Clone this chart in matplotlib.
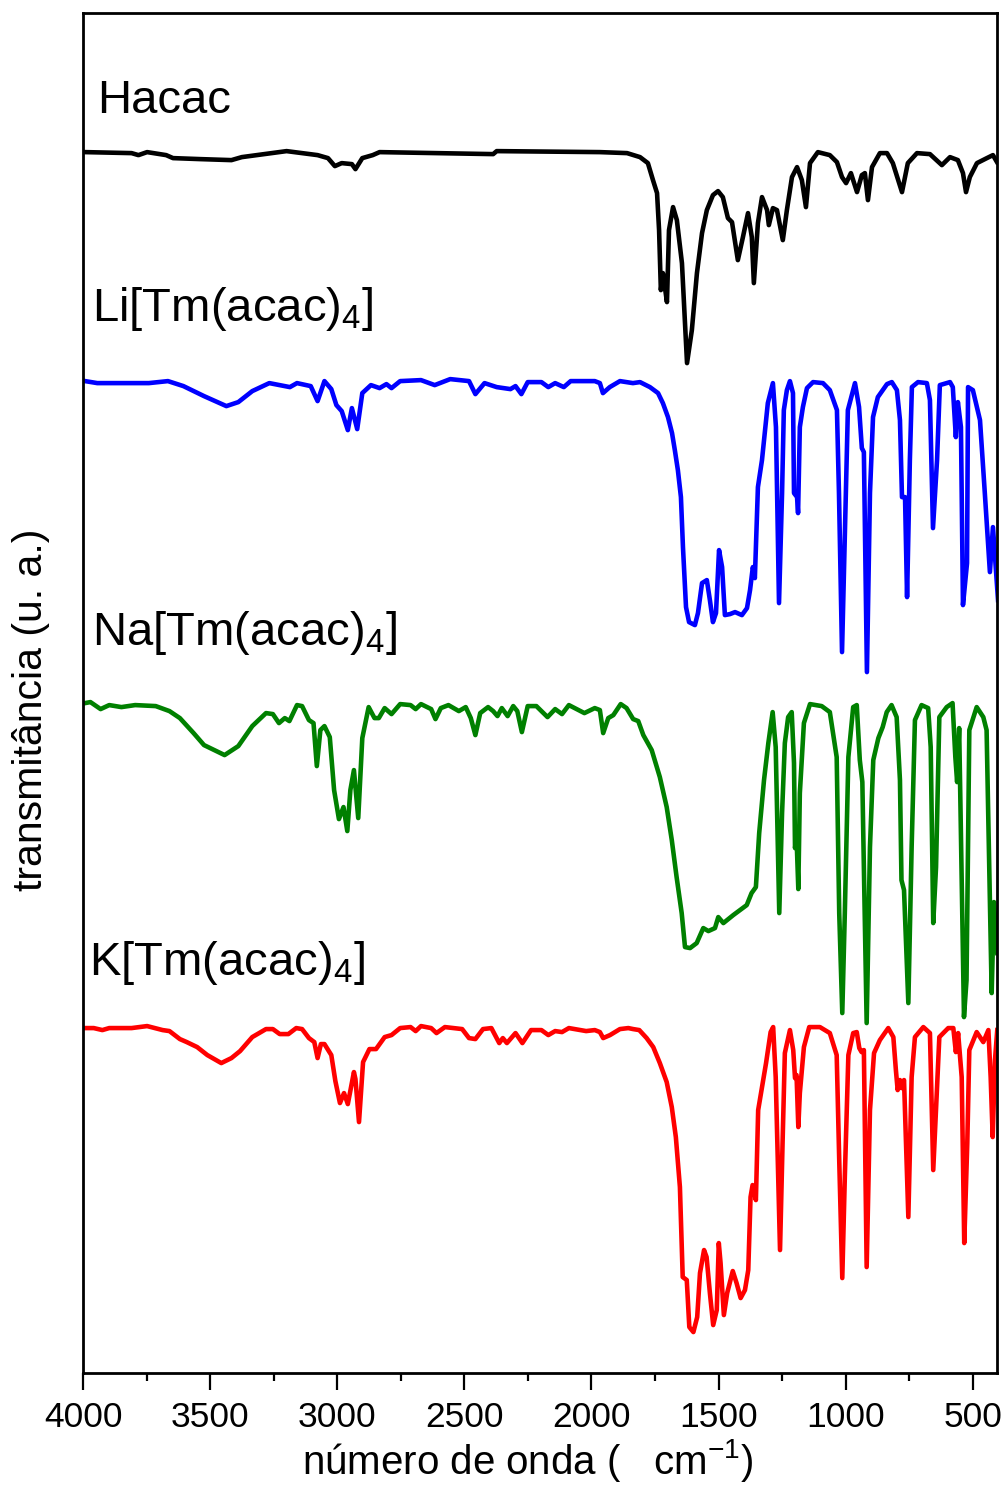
import numpy as np
import matplotlib
matplotlib.use("Agg")
import matplotlib.pyplot as plt
from matplotlib import font_manager
from matplotlib.ticker import MultipleLocator

# IR spectra, wavenumber (cm-1) vs transmittance (arbitrary units, stacked)
wn_hacac = [3993, 3810, 3783, 3749, 3674, 3647, 3539, 3417, 3376, 3200,
            3078, 3037, 3010, 2983, 2943, 2929, 2902, 2861, 2834, 2387,
            2373, 1967, 1860, 1809, 1778, 1758, 1742, 1734, 1727, 1719,
            1715, 1703, 1695, 1679, 1664, 1644, 1624, 1605, 1585, 1565,
            1546, 1522, 1502, 1483, 1463, 1447, 1424, 1404, 1384, 1369,
            1361, 1345, 1329, 1309, 1302, 1286, 1270, 1247, 1231, 1211,
            1191, 1172, 1156, 1140, 1109, 1062, 1034, 1014, 998, 979,
            955, 936, 924, 912, 896, 865, 837, 814, 778, 755,
            719, 668, 621, 589, 558, 538, 526, 511, 483, 444,
            420, 404]
t_hacac = [1221, 1220, 1218, 1221, 1218, 1215, 1214, 1213, 1216, 1222,
           1218, 1215, 1207, 1210, 1209, 1204, 1215, 1218, 1221, 1219,
           1222, 1221, 1220, 1216, 1210, 1193, 1180, 1143, 1083, 1100,
           1093, 1071, 1143, 1166, 1153, 1110, 1010, 1043, 1100, 1140,
           1163, 1178, 1182, 1176, 1155, 1151, 1113, 1136, 1160, 1136,
           1090, 1150, 1176, 1163, 1148, 1165, 1163, 1133, 1163, 1196,
           1206, 1193, 1166, 1210, 1221, 1218, 1211, 1196, 1190, 1200,
           1181, 1198, 1200, 1173, 1206, 1220, 1220, 1210, 1181, 1210,
           1220, 1219, 1208, 1216, 1213, 1200, 1181, 1196, 1210, 1215,
           1218, 1211]

wn_li = [3993, 3945, 3850, 3742, 3667, 3606, 3525, 3437, 3390, 3335,
         3268, 3227, 3187, 3159, 3105, 3078, 3051, 3024, 3004, 2983,
         2959, 2943, 2922, 2902, 2868, 2834, 2807, 2787, 2753, 2671,
         2617, 2556, 2482, 2457, 2421, 2373, 2319, 2299, 2276, 2251,
         2197, 2170, 2143, 2109, 2082, 1987,
         1967, 1955, 1928, 1888, 1837, 1809, 1770, 1738, 1719, 1699,
         1683, 1672, 1660, 1648, 1640, 1628, 1616, 1593, 1581, 1565,
         1546, 1534, 1522, 1510, 1498, 1486, 1475, 1455, 1435, 1408,
         1388, 1376, 1365, 1357, 1345, 1329, 1317, 1306, 1286, 1274,
         1262, 1250, 1243, 1231, 1219, 1207, 1203, 1191, 1187, 1180,
         1168, 1152, 1128, 1089, 1062, 1034, 1026, 1014, 1002, 991,
         963, 947, 936, 928, 916, 904, 892, 873, 837, 818,
         798, 786, 778, 766, 758, 747, 739, 715, 680, 668,
         656, 640, 629, 589, 578, 566, 558, 546, 538, 522,
         518, 499, 471, 452, 432, 420, 400]
t_li = [992, 990, 990, 990, 992, 987, 977, 967, 971, 982,
        990, 988, 986, 990, 987, 972, 992, 984, 968, 962,
        943, 965, 944, 980, 988, 985, 989, 985, 992, 993,
        988, 994, 992, 979, 990, 986, 984, 987, 979, 991,
        991, 986, 990, 986, 992, 992,
        990, 980, 986, 992, 990, 991, 986, 980, 970, 956,
        940, 923, 903, 876, 826, 766, 751, 748, 760, 790,
        793, 773, 751, 760, 823, 806, 758, 759, 761, 758,
        765, 783, 806, 795, 886, 913, 943, 970, 990, 946,
        770, 880, 963, 983, 992, 980, 880, 876, 860, 946,
        966, 985, 991, 990, 983, 963, 880, 721, 846, 963,
        990, 966, 925, 921, 701, 880, 956, 976, 989, 991,
        983, 953, 876, 876, 776, 913, 986, 991, 990, 973,
        845, 913, 988, 991, 986, 936, 971, 946, 768, 810,
        986, 983, 953, 880, 801, 846, 773]

wn_na = [3993, 3972, 3932, 3898, 3850, 3796, 3715, 3661, 3620, 3566,
         3525, 3444, 3390, 3335, 3281, 3254, 3230, 3207, 3189, 3159,
         3139, 3112, 3094, 3081, 3067, 3051, 3030, 3013, 2994, 2976,
         2961, 2949, 2935, 2918, 2902, 2877, 2854, 2837, 2814, 2787,
         2753, 2712, 2692, 2671, 2631, 2614, 2593, 2563, 2522, 2495,
         2475, 2457, 2438, 2407, 2387, 2370, 2353, 2330, 2308, 2292,
         2274, 2251, 2217, 2173, 2143, 2116, 2089, 2028, 1987,
         1967, 1954, 1934, 1914, 1885, 1862, 1836, 1816, 1796, 1763,
         1731, 1704, 1684, 1665, 1645, 1632, 1612, 1586, 1560, 1540,
         1514, 1501, 1481, 1442, 1389, 1370, 1353, 1340, 1321, 1304,
         1287, 1275, 1261, 1250, 1239, 1226, 1212, 1203, 1199, 1193,
         1186, 1180, 1164, 1140, 1094, 1062, 1035, 1025, 1013, 1003,
         989, 970, 956, 944, 934, 917, 904, 891, 871, 854,
         838, 819, 799, 786, 780, 770, 753, 740, 727, 701,
         675, 665, 655, 644, 631, 602, 579, 568, 561, 553,
         534, 524, 513, 484, 458, 445, 425, 416, 403]
t_na = [670, 671, 664, 668, 666, 668, 667, 662, 655, 640,
        628, 618, 627, 647, 660, 659, 650, 655, 652, 668,
        667, 653, 650, 607, 643, 647, 636, 583, 554, 566,
        542, 583, 603, 555, 635, 666, 655, 655, 665, 659,
        669, 668, 664, 669, 664, 654, 665, 668, 662, 666,
        655, 638, 660, 666, 662, 657, 665, 657, 667, 662,
        641, 667, 667, 656, 664, 659, 668, 660, 665,
        663, 640, 655, 658, 669, 665, 654, 652, 638, 623,
        596, 566, 533, 496, 460, 426, 425, 430, 445, 442,
        445, 456, 450, 458, 468, 480, 486, 540, 593, 630,
        661, 626, 460, 560, 630, 656, 661, 610, 525, 536,
        484, 580, 650, 669, 667, 661, 616, 460, 360, 460,
        616, 666, 668, 613, 591, 350, 526, 613, 635, 646,
        661, 668, 656, 593, 493, 483, 370, 526, 653, 668,
        665, 626, 450, 506, 656, 666, 670, 616, 591, 645,
        356, 393, 643, 666, 656, 643, 380, 471, 420]

wn_k = [3993, 3959, 3925, 3898, 3810, 3749, 3688, 3661, 3620, 3593,
        3552, 3512, 3457, 3417, 3383, 3335, 3281, 3254, 3227, 3193,
        3162, 3139, 3112, 3091, 3078, 3065, 3051, 3024, 3008, 2990,
        2974, 2959, 2935, 2929, 2915, 2899, 2874, 2848, 2814, 2787,
        2753, 2712, 2692, 2671, 2631, 2610, 2577, 2509, 2482, 2457,
        2427, 2394, 2363, 2349, 2333, 2299, 2272, 2238, 2197, 2170,
        2143, 2116, 2089, 2021, 1987,
        1967, 1954, 1927, 1888, 1855, 1836, 1812, 1783, 1757, 1731,
        1704, 1684, 1668, 1652, 1641, 1625, 1615, 1599, 1584, 1573,
        1557, 1547, 1534, 1521, 1507, 1499, 1492, 1479, 1466, 1444,
        1429, 1413, 1396, 1383, 1374, 1366, 1353, 1344, 1326, 1313,
        1295, 1285, 1275, 1258, 1248, 1239, 1219, 1206, 1199, 1193,
        1186, 1180, 1164, 1143, 1101, 1062, 1035, 1025, 1013, 1003,
        989, 970, 956, 946, 937, 928, 917, 904, 888, 865,
        832, 812, 802, 795, 786, 780, 770, 753, 740, 727,
        694, 668, 655, 644, 631, 596, 576, 566, 557, 543,
        533, 521, 513, 484, 458, 438, 429, 421, 412, 403]
t_k = [345, 345, 343, 345, 345, 347, 343, 342, 334, 331,
       326, 318, 310, 315, 322, 336, 344, 344, 339, 339,
       345, 344, 335, 331, 315, 329, 329, 318, 292, 270,
       280, 269, 301, 294, 251, 311, 324, 324, 336, 338,
       345, 346, 342, 347, 345, 340, 346, 344, 335, 334,
       344, 345, 330, 335, 330, 340, 330, 343, 343, 338,
       342, 341, 345, 342, 343,
       341, 335, 338, 344, 345, 344, 343, 335, 326, 310,
       291, 266, 236, 186, 96, 93, 46, 41, 56, 100,
       123, 116, 80, 48, 63, 130, 110, 58, 80, 102,
       90, 75, 83, 103, 176, 188, 173, 263, 290, 310,
       341, 346, 296, 123, 230, 320, 343, 323, 295, 298,
       246, 280, 326, 346, 346, 340, 318, 213, 95, 196,
       318, 340, 341, 325, 321, 323, 106, 263, 320, 333,
       345, 336, 303, 283, 293, 285, 293, 156, 296, 336,
       346, 340, 203, 263, 336, 345, 345, 321, 340, 296,
       130, 230, 323, 341, 331, 343, 296, 236, 313, 343]

names = ["Hacac", "Li[Tm(acac)$_4$]", "Na[Tm(acac)$_4$]", "K[Tm(acac)$_4$]"]
colors = ["black", "#0000FF", "#008000", "#FF0000"]
# label anchor (wavenumber, y) for each spectrum name
label_x = [3946, 3966, 3966, 3978]
label_y = [1260, 1052, 728, 398]

available = {f.name for f in font_manager.fontManager.ttflist}
narrow = "Liberation Sans Narrow" if "Liberation Sans Narrow" in available else "Liberation Sans"
is_narrow = narrow == "Liberation Sans Narrow"

plt.rcParams["font.family"] = [narrow, "DejaVu Sans"]
plt.rcParams["mathtext.fontset"] = "custom"
plt.rcParams["mathtext.rm"] = "Liberation Sans"
plt.rcParams["mathtext.it"] = "Liberation Sans:italic"
plt.rcParams["mathtext.default"] = "regular"

fig = plt.figure(figsize=(10.05, 14.91), dpi=100)
ax = fig.add_axes([0.0829, 0.0789, 0.9089, 0.9125])

series = [(wn_hacac, t_hacac), (wn_li, t_li), (wn_na, t_na), (wn_k, t_k)]
for (w, t), c in zip(series, colors):
    ax.plot(w, t, color=c, lw=3.3, solid_joinstyle="round")

for name, x, y in zip(names, label_x, label_y):
    ax.text(x, y, name, fontsize=34, family="Liberation Sans", va="baseline", ha="left")

ax.set_xlim(4000, 405)
ax.set_ylim(-0.3, 1360.3)
ax.set_xticks(np.arange(4000, 400, -500))
ax.xaxis.set_minor_locator(MultipleLocator(250))
ax.set_yticks([])
ax.tick_params(axis="x", which="major", direction="out", length=12, width=1.6,
               labelsize=27.5 if is_narrow else 25.5, pad=8)
ax.tick_params(axis="x", which="minor", direction="out", length=6, width=1.6)
for s in ax.spines.values():
    s.set_linewidth(2)

ax.set_xlabel("número de onda (   cm$^{-1}$)", fontsize=34 if is_narrow else 29)
ax.set_ylabel("transmitância (u. a.)", fontsize=31 if is_narrow else 29.5)
ax.xaxis.set_label_coords(0.486, -0.047)
ax.yaxis.set_label_coords(-0.036, 0.488)

fig.savefig("out.png", dpi=100)
